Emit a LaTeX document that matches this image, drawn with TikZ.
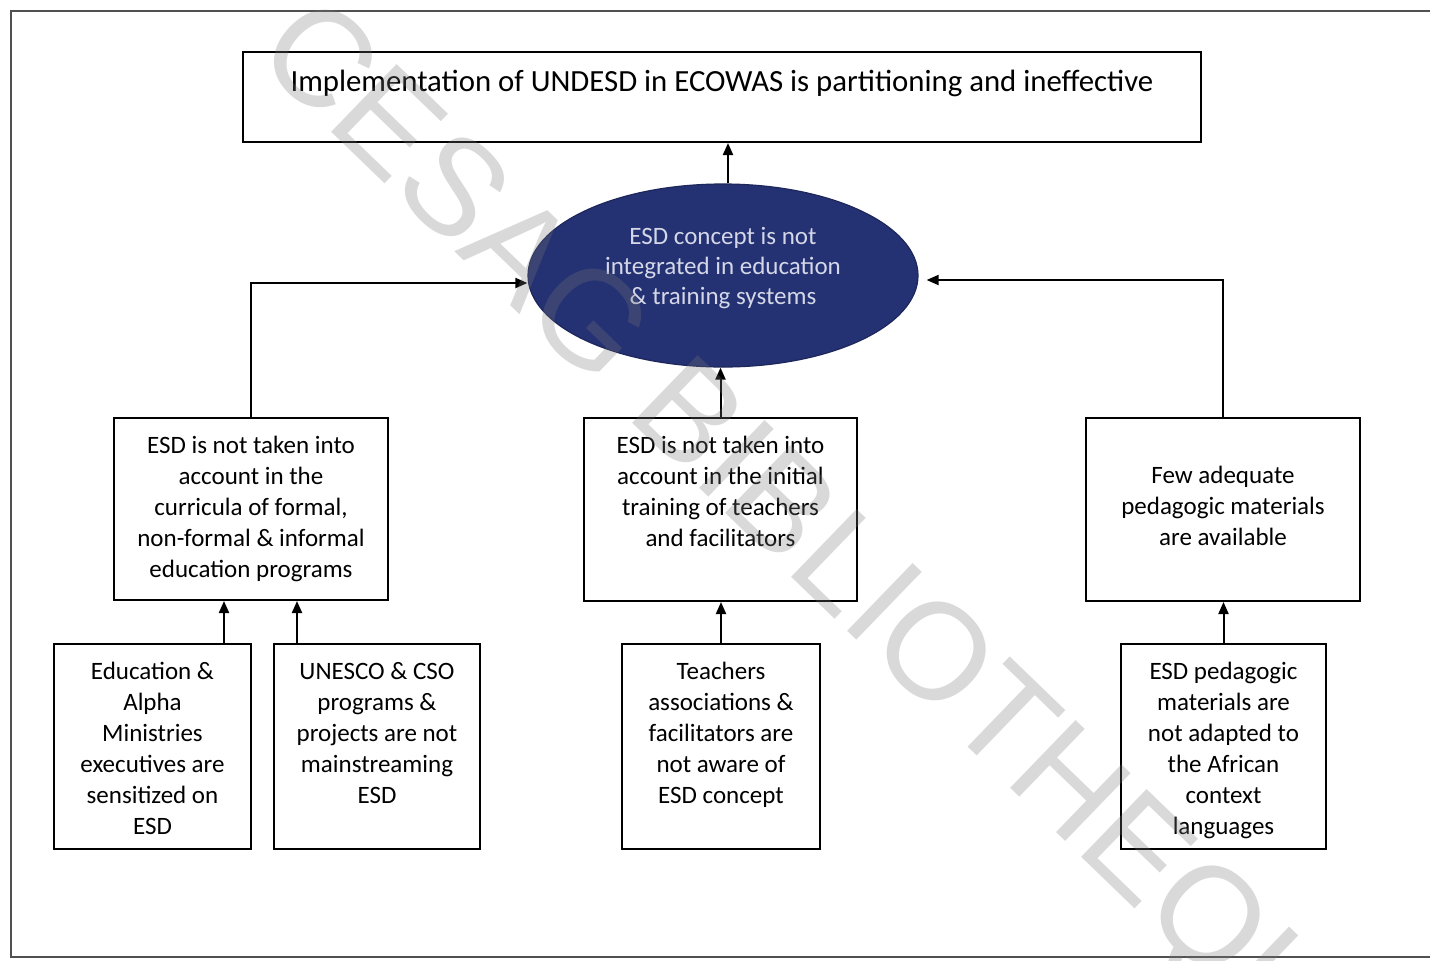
\documentclass[tikz,border=0pt]{standalone}
\usepackage{fontspec}
\setmainfont{Carlito}
\newfontfamily\wmfont{Liberation Sans}
\usetikzlibrary{arrows.meta,shapes.geometric}
\definecolor{navy}{RGB}{36,49,114}
\definecolor{elltext}{RGB}{212,215,232}
\definecolor{framecol}{RGB}{80,80,80}
\tikzset{
  boxnode/.style={draw=black, line width=1pt, inner sep=0pt, align=flush center,
    anchor=north west, font=\fontsize{12.5pt}{15.5pt}\selectfont},
  conn/.style={line width=1pt, -{Triangle[length=6pt,width=5pt]}},
  wm/.style={font=\wmfont\fontsize{68.5pt}{80pt}\selectfont, text=black!53,
    text opacity=0.28, inner sep=0pt}
}
\begin{document}
\begin{tikzpicture}[x=0.5pt,y=-0.5pt]
\useasboundingbox (0,0) rectangle (1430,960);
\fill[white] (0,0) rectangle (1430,960);
\draw[framecol, line width=0.8pt] (1430,11) -- (11,11) -- (11,957) -- (1430,957);

% top box
\node[boxnode, font=\fontsize{15.4pt}{19pt}\selectfont, text width=479pt,
  text height=19.5pt, text depth=25.5pt] (T) at (242,51)
  {Implementation of UNDESD in ECOWAS is partitioning and ineffective};

% ellipse
\node[ellipse, fill=navy, draw=navy!80!black, line width=0.6pt, inner sep=0pt,
  minimum width=195pt, minimum height=91.5pt, text=elltext, align=flush center,
  text width=130pt, text height=10pt, text depth=41.5pt,
  font=\fontsize{12.5pt}{15pt}\selectfont] (E) at (723,275.5)
  {ESD concept is not\\integrated in education\\\& training systems};

% second row
\node[boxnode, text width=137pt, text height=17.5pt, text depth=73.5pt] (L) at (113,417)
  {ESD is not taken into\\account in the\\curricula of formal,\\non-formal \& informal\\education programs};
\node[boxnode, text width=136.5pt, text height=17.5pt, text depth=74pt] (M) at (583,417)
  {ESD is not taken into\\account in the initial\\training of teachers\\and facilitators};
\node[boxnode, text width=137pt, text height=32.5pt, text depth=59pt] (R) at (1085,417)
  {Few adequate\\pedagogic materials\\are available};

% third row
\node[boxnode, text width=98.5pt, text height=17.5pt, text depth=85pt] (B1) at (53,643)
  {Education \&\\Alpha\\Ministries\\executives are\\sensitized on\\ESD};
\node[boxnode, text width=103pt, text height=17.5pt, text depth=85pt] (B2) at (273,643)
  {UNESCO \& CSO\\programs \&\\projects are not\\mainstreaming\\ESD};
\node[boxnode, text width=99pt, text height=17.5pt, text depth=85pt] (B3) at (621,643)
  {Teachers\\associations \&\\facilitators are\\not aware of\\ESD concept};
\node[boxnode, text width=102.5pt, text height=17.5pt, text depth=85pt] (B4) at (1120,643)
  {ESD pedagogic\\materials are\\not adapted to\\the African\\context\\languages};

% connectors
\coordinate (eN) at ([xshift=2.5pt]E.north);
\draw[conn] (eN) -- (eN |- T.south);
\draw[conn] (M.north) -- (M.north |- E.south);
\coordinate (eW) at ([yshift=-3.75pt]E.west);
\draw[conn] (L.north) |- (eW);
\coordinate (eE) at ([yshift=-2.25pt]E.east);
\draw[conn, shorten >=4pt] (R.north) |- (eE);
\coordinate (b1a) at ([xshift=35.75pt]B1.north);
\draw[conn] (b1a) -- (b1a |- L.south);
\coordinate (b2a) at ([xshift=-40pt]B2.north);
\draw[conn] (b2a) -- (b2a |- L.south);
\draw[conn] (B3.north) -- (B3.north |- M.south);
\draw[conn] (B4.north) -- (B4.north |- R.south);

% watermark
\begin{scope}
\clip (0,0) rectangle (1430,960);
\node[wm, rotate=-44, anchor=base west] (wmk) at (252,56) {CESAG BIBLIOTHEQUE};
\end{scope}
\end{tikzpicture}
\end{document}
